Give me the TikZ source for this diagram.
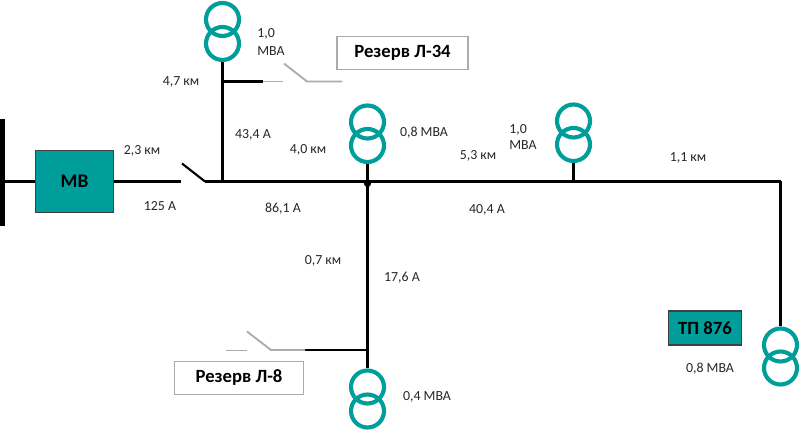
\documentclass[tikz,border=0pt]{standalone}
\usepackage{fontspec}
\setmainfont{Carlito}
\definecolor{teal1}{HTML}{009E9A}
\definecolor{gry}{HTML}{ABABAB}
\definecolor{lbl}{HTML}{262626}
\tikzset{
  x=0.75pt, y=-0.75pt,
  winding/.style={circle, draw=teal1, line width=3.1pt, minimum size=24.75pt, inner sep=0pt},
  wire/.style={line width=2.1pt, black},
  thin wire/.style={line width=1.6pt, black},
  off/.style={line width=1.4pt, gry},
  lab/.style={font=\fontsize{10.4}{12}\selectfont, text=lbl, inner sep=0pt, align=left},
  tealbox/.style={draw=black!75, line width=0.8pt, fill=teal1, inner sep=0pt},
  reserve/.style={draw=gry, line width=1.1pt, fill=white, font=\fontsize{14}{16}\selectfont\bfseries, inner sep=0pt},
}
\begin{document}
\begin{tikzpicture}
\useasboundingbox (0,0) rectangle (800,431);

% supply busbar and circuit breaker
\node[tealbox, minimum width=58.5pt, minimum height=46.5pt, font=\fontsize{14.5}{17}\selectfont\bfseries] (mv) at (74.5,181.5) {МВ};
\coordinate (barT) at (2.5,119);
\coordinate (barB) at (2.5,226);
\coordinate (barM) at (2.5,181.5);
\draw[line width=3.6pt] (barT) -- (barB);
\draw[thin wire] (barM) -- (mv.west);

% sectionaliser
\coordinate (swL) at (181,181.5);
\coordinate (swT) at (182,163.5);
\coordinate (swP) at (205,181.5);
\draw[thin wire] (mv.east) -- (swL);
\draw[thin wire] (swT) -- (swP);

% main line
\coordinate (junA) at (222.5,181.5);
\coordinate (junB) at (367.5,183.5);
\coordinate (junC) at (573.5,181.5);
\coordinate (corner) at (780.5,181.5);
\draw[wire] (swP) -- (junA) -- (junB |- junA) -- (junC) -- (corner);
\fill (junB) circle (3.6);

% transformers
\node[winding] (t1a) at (222.5,19.5) {};
\node[winding] (t1b) at (222.5,43.5) {};
\node[winding] (t2a) at (367.5,122) {};
\node[winding] (t2b) at (367.5,145.5) {};
\node[winding] (t3a) at (573.5,121) {};
\node[winding] (t3b) at (573.5,144.5) {};
\node[winding] (t4a) at (780.5,345) {};
\node[winding] (t4b) at (780.5,368) {};
\node[winding] (t5a) at (367.5,387) {};
\node[winding] (t5b) at (367.5,411) {};

% branches to the transformers
\draw[thin wire] (t1b.south) -- (junA);
\draw[thin wire] (t2b.south) -- (junB);
\draw[thin wire] (t3b.south) -- (junC);
\draw[thin wire] (corner) -- (t4a.north);
\draw[thin wire] (junB) -- (t5a.north);

% reserve tie towards line L-34
\coordinate (r1a) at (222.5,81.5);
\coordinate (r1b) at (263,81.5);
\coordinate (r1c) at (283,81.5);
\coordinate (r1d) at (284,63.5);
\coordinate (r1e) at (307,81.5);
\coordinate (r1f) at (342,81.5);
\draw[wire] (r1a) -- (r1b);
\draw[off] (r1b) -- (r1c);
\draw[off] (r1d) -- (r1e) -- (r1f);
\node[reserve, minimum width=98pt, minimum height=25pt] (res34) at (402.5,53) {Резерв Л-34};

% reserve tie towards line L-8
\coordinate (r2a) at (367.5,350);
\coordinate (r2b) at (305,350);
\coordinate (r2c) at (271,350);
\coordinate (r2d) at (247,331.5);
\coordinate (r2e) at (247,350.5);
\coordinate (r2f) at (226,350.5);
\draw[wire] (r2a) -- (r2b);
\draw[off] (r2b) -- (r2c) -- (r2d);
\draw[off] (r2e) -- (r2f);
\node[reserve, minimum width=96.5pt, minimum height=25pt] (res8) at (239,378) {Резерв Л-8};

% substation tag
\node[tealbox, minimum width=55pt, minimum height=25.5pt, font=\fontsize{14}{16}\selectfont\bfseries] (tp) at (705,328) {ТП 876};

% ratings, lengths and currents
\node[lab, anchor=west] (a1) at (257,34) {1,0};
\node[lab, anchor=west] (a2) at (257,51) {МВА};
\node[lab, anchor=center] (b1) at (181,82) {4,7 км};
\node[lab, anchor=center] (b2) at (253,135) {43,4 А};
\node[lab, anchor=center] (b3) at (308,150) {4,0 км};
\node[lab, anchor=center] (b4) at (142,151) {2,3 км};
\node[lab, anchor=center] (b5) at (160,206) {125 А};
\node[lab, anchor=center] (b6) at (283,209) {86,1 А};
\node[lab, anchor=center] (b7) at (424,133) {0,8 МВА};
\node[lab, anchor=west] (c1) at (509,130) {1,0};
\node[lab, anchor=west] (c2) at (509,145) {МВА};
\node[lab, anchor=center] (b8) at (478,156) {5,3 км};
\node[lab, anchor=center] (b9) at (688,158) {1,1 км};
\node[lab, anchor=center] (b10) at (487,210) {40,4 А};
\node[lab, anchor=center] (b11) at (323,261) {0,7 км};
\node[lab, anchor=center] (b12) at (402,278) {17,6 А};
\node[lab, anchor=center] (b13) at (427,397) {0,4 МВА};
\node[lab, anchor=center] (b14) at (710,369) {0,8 МВА};
\end{tikzpicture}
\end{document}
